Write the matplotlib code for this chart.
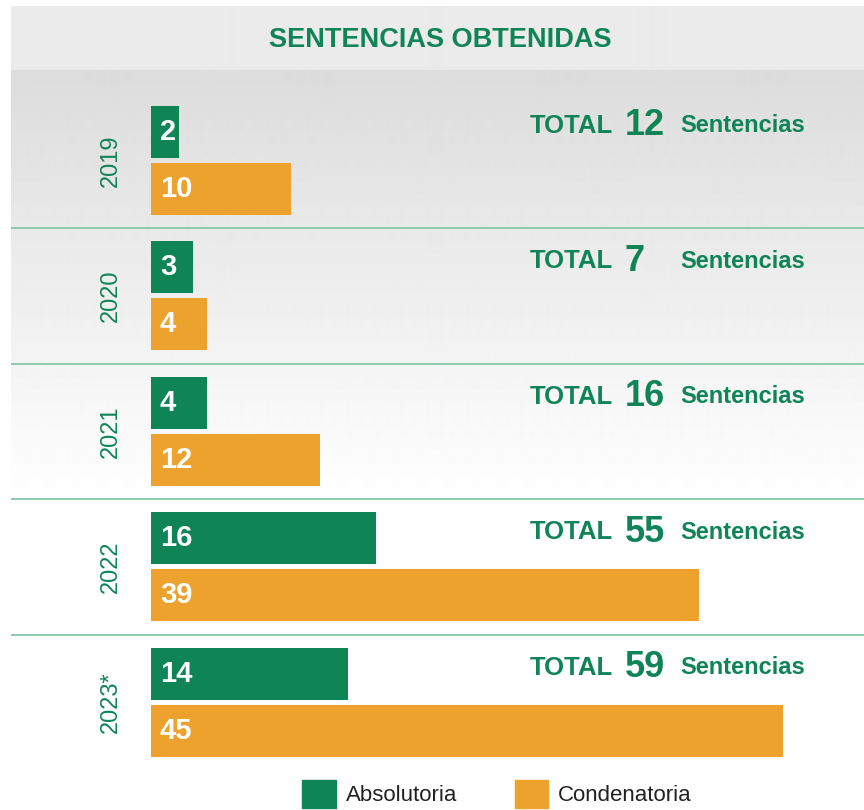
import numpy as np
import matplotlib
matplotlib.use("Agg")
import matplotlib.pyplot as plt
from matplotlib.patches import Patch

# data
years = ["2019", "2020", "2021", "2022", "2023*"]
absolutoria = [2, 3, 4, 16, 14]
condenatoria = [10, 4, 12, 39, 45]
totals = [a + c for a, c in zip(absolutoria, condenatoria)]

green = "#0E8457"
orange = "#EDA22E"
sep_color = "#7DC3A2"
narrow = ["Liberation Sans Narrow", "Liberation Sans", "DejaVu Sans"]
arial = ["Liberation Sans", "DejaVu Sans"]

W, H = 864, 810
fig = plt.figure(figsize=(W / 100, H / 100), dpi=100)
fig.patch.set_facecolor("white")

# background: header band + gray gradient fading to white
bg = fig.add_axes([11 / W, 0, (W - 11) / W, (H - 6) / H])
rows = np.arange(6, H)
shade = np.where(rows < 70, 0.918,
                 np.clip(0.863 + (rows - 70) / (500 - 70) * (1 - 0.863), 0, 1))
bg.imshow(shade[:, None], cmap="gray", vmin=0, vmax=1, aspect="auto",
          extent=[0, 1, H, 6], interpolation="bilinear")
bg.set_xlim(0, 1)
bg.set_ylim(H, 6)
bg.axis("off")

# main axes: pixel rows 70..810, full width from x=11
ax = fig.add_axes([11 / W, 0, (W - 11) / W, (H - 70) / H])
ax.patch.set_alpha(0)
px_unit = 632 / 45  # pixels per sentence
x0 = 151 - 11
ax.set_xlim(-x0 / px_unit, (W - 11 - x0) / px_unit)
gap = 135.5
top = -(160.5 - 70) / gap
ax.set_ylim(top + (H - 70) / gap, top)
ax.axis("off")

ypos = np.arange(len(years))
off = 57 / 2 / gap
bh = 52 / gap
ax.barh(ypos - off, absolutoria, height=bh, color=green, left=0)
ax.barh(ypos + off, condenatoria, height=bh, color=orange, left=0)

for i in range(len(years)):
    ax.text(9 / px_unit, i - off, str(absolutoria[i]), color="white", fontsize=21,
            fontweight="bold", family=arial, ha="left", va="center")
    ax.text(9 / px_unit, i + off, str(condenatoria[i]), color="white", fontsize=21,
            fontweight="bold", family=arial, ha="left", va="center")
    ax.text(-40 / px_unit, i, years[i], rotation=90, color=green, fontsize=17,
            family=narrow, ha="center", va="center")
    ty = i - off - 6 / gap
    ax.text(379 / px_unit, ty, "TOTAL", color=green, fontsize=18.5, fontweight="bold",
            family=arial, ha="left", va="center")
    ax.text(474 / px_unit, ty, str(totals[i]), color=green, fontsize=26,
            fontweight="bold", family=arial, ha="left", va="center")
    ax.text(529 / px_unit, ty, "Sentencias", color=green, fontsize=17,
            fontweight="bold", family=narrow, ha="left", va="center")

ax.hlines(ypos[:-1] + 0.5, ax.get_xlim()[0], ax.get_xlim()[1], color=sep_color, lw=1.2)

fig.text(440 / W, 1 - 40 / H, "SENTENCIAS OBTENIDAS", color=green, fontsize=19.5,
         fontweight="bold", family=narrow, ha="center", va="center")

handles = [Patch(color=green), Patch(color=orange)]
leg = fig.legend(handles, ["Absolutoria", "Condenatoria"], loc="center",
                 bbox_to_anchor=(497 / W, 1 - 794 / H), ncol=2, frameon=False,
                 prop={"family": narrow, "size": 16}, handlelength=1.5,
                 handleheight=1.5, handletextpad=0.45, columnspacing=2.6)
for t in leg.get_texts():
    t.set_color("#222222")

fig.savefig("out.png", dpi=100)
